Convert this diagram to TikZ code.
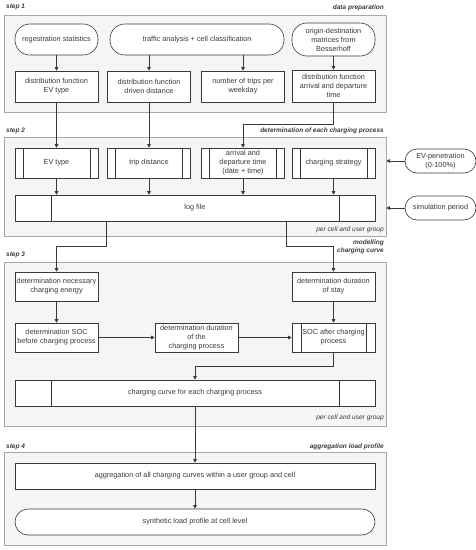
\documentclass[tikz,border=0pt]{standalone}
\usepackage{fontspec}
\setmainfont{Liberation Sans}
\usetikzlibrary{arrows.meta,calc}
\definecolor{grpfill}{HTML}{F5F5F5}
\definecolor{grpline}{HTML}{A8A8A8}
\definecolor{ln}{HTML}{3A3A3A}
\tikzset{
  grp/.style={draw=grpline, fill=grpfill, line width=0.6pt, inner sep=0pt},
  proc/.style={draw=ln, fill=white, line width=0.6pt, align=center, inner sep=1pt,
    font=\fontsize{7.3}{9}\selectfont, text=ln},
  term/.style={proc, rounded corners=#1},
  term/.default=15pt,
  predef/.style={proc, path picture={
    \draw[ln, line width=0.6pt] ([xshift=#1]path picture bounding box.north west) -- ([xshift=#1]path picture bounding box.south west);
    \draw[ln, line width=0.6pt] ([xshift=-#1]path picture bounding box.north east) -- ([xshift=-#1]path picture bounding box.south east);}},
  predef/.default=8pt,
  arr/.style={draw=ln, line width=0.6pt, -{Triangle[length=3.5pt,width=3.5pt]}},
  lnk/.style={draw=ln, line width=0.6pt},
  steplbl/.style={font=\fontsize{6.5}{8}\selectfont\bfseries\itshape, text=ln, inner sep=0pt},
  notelbl/.style={font=\fontsize{6.6}{8}\selectfont\itshape, text=ln, inner sep=0pt},
}
\begin{document}
\begin{tikzpicture}[x=1pt,y=-1pt]
\useasboundingbox (0,0) rectangle (476,550);
% group boxes
\node[grp, minimum width=382pt, minimum height=97pt] (s1) at (195,63.5) {};
\node[grp, minimum width=382pt, minimum height=99pt] (s2) at (195,186.5) {};
\node[grp, minimum width=382pt, minimum height=164pt] (s3) at (195,344) {};
\node[grp, minimum width=382pt, minimum height=93pt] (s4) at (195,498.5) {};
% labels
\node[steplbl, anchor=west] (l1) at (6,7) {step 1};
\node[steplbl, anchor=east] (t1) at (384,8) {data preparation};
\node[steplbl, anchor=west] (l2) at (6,131) {step 2};
\node[steplbl, anchor=east] (t2) at (384,131) {determination of each charging process};
\node[notelbl, anchor=east] (n2) at (384,230) {per cell and user group};
\node[steplbl, anchor=west] (l3) at (6,255) {step 3};
\node[steplbl, anchor=east, align=right] (t3) at (384,247) {modelling\\charging curve};
\node[notelbl, anchor=east] (n3) at (384,418) {per cell and user group};
\node[steplbl, anchor=west] (l4) at (6,447) {step 4};
\node[steplbl, anchor=east] (t4) at (384,447) {aggregation load profile};
% step 1
\node[term, minimum width=83pt, minimum height=31pt] (reg) at (56.5,39.5) {regestration statistics};
\node[term, minimum width=174pt, minimum height=31pt] (traf) at (197,39.5) {traffic analysis + cell classification};
\node[term, minimum width=83pt, minimum height=33pt] (od) at (333.5,39.5) {origin-destination\\matrices from\\Bosserhoff};
\node[proc, minimum width=83pt, minimum height=31pt] (dev) at (56.5,86.5) {distribution function\\EV type};
\node[proc, minimum width=83pt, minimum height=31pt] (ddist) at (149,86.5) {distribution function\\driven distance};
\node[proc, minimum width=83pt, minimum height=31pt] (trips) at (243,86.5) {number of trips per\\weekday};
\node[proc, minimum width=83pt, minimum height=32pt] (darr) at (333.5,86) {distribution function\\arrival and departure\\time};
% step 2
\node[predef, minimum width=83pt, minimum height=30pt] (evt) at (56.5,163) {EV type};
\node[predef, minimum width=83pt, minimum height=30pt] (trip) at (149,163) {trip distance};
\node[predef, minimum width=83pt, minimum height=30pt] (arr) at (243,163) {arrival and\\departure time\\(date + time)};
\node[predef, minimum width=83pt, minimum height=30pt] (strat) at (333.5,163) {charging strategy};
\node[predef=36pt, minimum width=360pt, minimum height=26pt] (log) at (195,208) {log file};
\node[term=12pt, minimum width=71pt, minimum height=24pt] (pen) at (440.5,161) {EV-penetration\\(0-100\%)};
\node[term=12pt, minimum width=71pt, minimum height=24pt] (sim) at (440.5,208) {simulation period};
% step 3
\node[proc, minimum width=83pt, minimum height=29pt] (energy) at (56.5,286.5) {determination necessary\\charging energy};
\node[proc, minimum width=83pt, minimum height=29pt] (stay) at (333.5,286.5) {determination duration\\of stay};
\node[proc, minimum width=83pt, minimum height=29pt] (socb) at (56.5,337.5) {determination SOC\\before charging process};
\node[proc, minimum width=83pt, minimum height=29pt] (dur) at (196.5,337.5) {determination duration\\of the\\charging process};
\node[predef=9pt, minimum width=83pt, minimum height=29pt] (soca) at (333.5,337.5) {SOC after charging\\process};
\node[predef=36pt, minimum width=360pt, minimum height=26pt] (curve) at (195,393) {charging curve for each charging process};
% step 4
\node[proc, minimum width=360pt, minimum height=26pt] (agg) at (195,476) {aggregation of all charging curves within a user group and cell};
\node[term=13pt, minimum width=360pt, minimum height=26pt] (syn) at (195,522) {synthetic load profile at cell level};
% corner coordinates
\coordinate (k1) at (333.5,124);
\coordinate (k2) at (106,246);
\coordinate (k3) at (286,246);
\coordinate (k4) at (333.5,366.5);
% connectors step 1
\draw[arr] (reg.south) -- (dev.north);
\draw[arr] (traf.south -| ddist.north) -- (ddist.north);
\draw[arr] (traf.south -| trips.north) -- (trips.north);
\draw[arr] (od.south) -- (darr.north);
% step 1 -> step 2
\draw[arr] (dev.south) -- (evt.north);
\draw[arr] (ddist.south) -- (trip.north);
\draw[arr] (darr.south) -- (k1) -| (arr.north);
% step 2
\draw[arr] (evt.south) -- (evt.south |- log.north);
\draw[arr] (trip.south) -- (trip.south |- log.north);
\draw[arr] (arr.south) -- (arr.south |- log.north);
\draw[arr] (strat.south) -- (strat.south |- log.north);
\draw[arr] (pen.west) -- (pen.west -| s2.east);
\draw[arr] (sim.west) -- (sim.west -| s2.east);
% step 2 -> step 3
\draw[arr] (k2 |- log.south) -- (k2) -| (energy.north);
\draw[arr] (k3 |- log.south) -- (k3) -| (stay.north);
% step 3
\draw[arr] (energy.south) -- (socb.north);
\draw[arr] (socb.east) -- (dur.west);
\draw[arr] (dur.east) -- (soca.west);
\draw[arr] (stay.south) -- (soca.north);
\draw[arr] (soca.south) -- (k4) -| (curve.north);
% step 3 -> 4
\draw[arr] (curve.south) -- (agg.north);
\draw[arr] (agg.south) -- (syn.north);
\end{tikzpicture}
\end{document}
